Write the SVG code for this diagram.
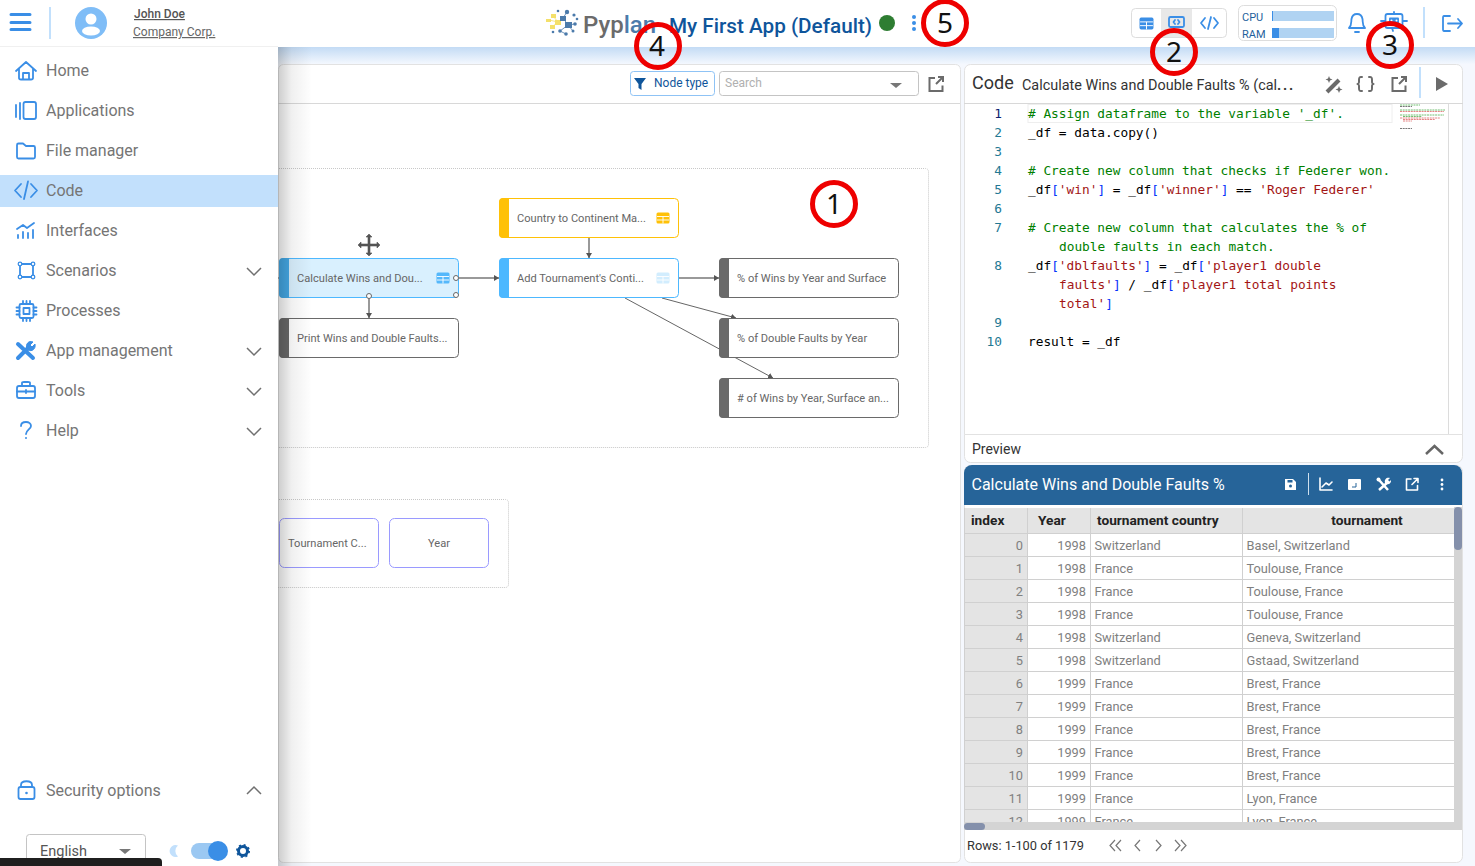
<svg xmlns="http://www.w3.org/2000/svg" width="1475" height="866" viewBox="0 0 1475 866">
<style>
text{font-family:Roboto,"Liberation Sans",sans-serif}
.nav{font-size:16px;fill:#757575}
.ic{fill:none;stroke:#3a8ee6;stroke-width:1.8;stroke-linecap:round;stroke-linejoin:round}
.gi{fill:none;stroke:#6b6b6b;stroke-width:2;stroke-linecap:round;stroke-linejoin:round}
.wi{fill:none;stroke:#fff;stroke-width:1.6;stroke-linecap:round;stroke-linejoin:round}
.chev{fill:none;stroke:#707070;stroke-width:1.5}
.nt{font-size:11.1px;fill:#666}
.code{font-family:"DejaVu Sans Mono","Liberation Mono",monospace;font-size:12.8px;fill:#000;white-space:pre}
.ln{font-family:"DejaVu Sans Mono","Liberation Mono",monospace;font-size:12.8px;fill:#237893;text-anchor:end}
.c{fill:#008000}.s{fill:#a31515}.b{fill:#0431fa}
.th{font-size:13.7px;font-weight:700;fill:#222}
.td{font-size:12.8px;fill:#808080}
.r{text-anchor:end}
.grid{stroke:#d0d0d0;stroke-width:1;fill:none}
.mark{fill:none;stroke:#ee0000;stroke-width:5}
.mt{font-family:"Noto Sans","Open Sans",sans-serif;font-size:28px;fill:#111;text-anchor:middle}
.conn{fill:none;stroke:#999;stroke-width:2}
.thin{fill:none;stroke:#666;stroke-width:1}
.lk{fill:none;stroke:#6b6b6b;stroke-width:2}
</style>
<defs>
<linearGradient id="band" x1="0" y1="0" x2="0" y2="1"><stop offset="0" stop-color="#c3dbf5"/><stop offset="1" stop-color="#f4f8fe"/></linearGradient>
<linearGradient id="shadow" x1="0" y1="0" x2="1" y2="0"><stop offset="0" stop-color="#000" stop-opacity=".2"/><stop offset=".4" stop-color="#000" stop-opacity=".06"/><stop offset="1" stop-color="#000" stop-opacity="0"/></linearGradient>
<marker id="ah" markerWidth="6" markerHeight="6" refX="5" refY="3" orient="auto" markerUnits="userSpaceOnUse"><path d="M0 0L5 3L0 6Z" fill="#555"/></marker>
<clipPath id="tb"><rect x="964" y="507" width="490" height="315"/></clipPath>
<symbol id="tblico" viewBox="0 0 14 12" overflow="visible"><rect x=".5" y=".5" width="13" height="11" rx="1.5" fill="currentColor"/><path d="M1 4.5H13M1 8H13M7 4.5V11.5" stroke="#fff" stroke-width=".9" fill="none"/></symbol>
</defs>

<rect width="1475" height="866" fill="#f5f8fe"/>
<rect x="0" y="47" width="1475" height="17" fill="url(#band)"/>
<rect x="0" y="0" width="1475" height="47" fill="#fff"/>

<g id="top-bar">
<g id="logo">
<g stroke="#f4e06a" stroke-width=".8"><path d="M549 20L558 22M553 16L558 22M552 27L558 22"/></g>
<g fill="#f4e06a"><rect x="546" y="19" width="5" height="3"/><rect x="551" y="14" width="5" height="4"/><rect x="555" y="20" width="6" height="5"/><rect x="550" y="25" width="5" height="4"/></g>
<g stroke="#4c7bab" stroke-width=".8"><path d="M563 18L567 12M563 18L568 25M568 25L575 24M568 25L573 31M568 25L560 31M560 31L566 34"/></g>
<g fill="#4c7bab"><circle cx="567" cy="12" r="2.200"/><circle cx="574" cy="15" r="1.600"/><rect x="560" y="16" width="6" height="5"/><rect x="565" y="22" width="7" height="6"/><circle cx="575" cy="24" r="1.800"/><circle cx="577" cy="19" r="1.300"/><circle cx="573" cy="31" r="1.500"/><circle cx="560" cy="31" r="1.800"/><circle cx="566" cy="34" r="1.800"/><circle cx="553" cy="32" r="1.300"/><circle cx="558" cy="11" r="1.300"/></g>
</g>
<text x="583" y="33" font-size="24" font-weight="500" fill="#6b6b6b">Pyp<tspan fill="#4c7bab">lan</tspan></text>
<text x="669" y="33" font-size="20.700" font-weight="500" fill="#0f559b">My First App (Default)</text>
<circle cx="887" cy="23" r="8" fill="#2e7d32"/>
<g fill="#3a8ee6"><circle cx="914" cy="17" r="2"/><circle cx="914" cy="23" r="2"/><circle cx="914" cy="29" r="2"/></g>
<g id="view-switch">
<rect x="1131.500" y="8.500" width="95" height="29" rx="4" fill="#fff" stroke="#ddd"/>
<rect x="1161" y="9" width="31" height="28" fill="#e8e8e8"/>
<use href="#tblico" x="1139" y="17" width="15" height="13" color="#3a8ee6"/>
<rect x="1169" y="17" width="15" height="10" rx="1.500" class="ic"/><path d="M1173 31H1180" class="ic"/><path d="M1175 20L1173.500 22L1175 24M1178 20L1179.500 22L1178 24" class="ic" stroke-width="1"/>
<path d="M1205 18L1201 23L1205 28M1214 18L1218 23L1214 28M1211 17L1208 29" class="ic"/>
</g>
<g id="resources">
<rect x="1238.500" y="5.500" width="98" height="35" rx="5" fill="#fff" stroke="#ddd"/>
<text x="1242" y="21" font-size="11" fill="#1f5f9c">CPU</text>
<text x="1242" y="38" font-size="11" fill="#1f5f9c">RAM</text>
<rect x="1272" y="11" width="62" height="10" fill="#b0d3f2"/><rect x="1272" y="11" width="1" height="10" fill="#3a8ee6"/>
<rect x="1272" y="28" width="62" height="10" fill="#b0d3f2"/><rect x="1272" y="28" width="7" height="10" fill="#3a8ee6"/>
</g>
<path d="M1349 28C1352 25 1351 22 1351.500 19C1352 16 1354 14 1357 14C1360 14 1362 16 1362.500 19C1363 22 1362 25 1365 28ZM1355 32H1359" class="ic"/>
<rect x="1385.500" y="14" width="17" height="14" rx="2" class="ic"/><rect x="1389" y="17.500" width="10" height="6" rx="1" fill="#3a8ee6"/><circle cx="1391.500" cy="20.500" r="1" fill="#fff"/><circle cx="1396.500" cy="20.500" r="1" fill="#fff"/><path d="M1381 21H1385M1403 21H1407M1394 12V14M1392 28L1393 31" class="ic"/>
<rect x="1423" y="7" width="2" height="31" fill="#c2e0fc"/>
<path d="M1450 16H1444C1443 16 1443 17 1443 18V29C1443 30 1443 31 1444 31H1450M1448 23.500H1462M1458 19L1462 23.500L1458 28" class="ic"/>
</g>

<g id="left-panel">
<rect x="278.500" y="64.500" width="682" height="798" rx="5" fill="#fff" stroke="#e2e2e2"/>
<path d="M278 103.500H960" stroke="#d8d8d8" fill="none"/>
<g id="filter">
<rect x="630.500" y="71.500" width="84" height="24" rx="3" fill="#fff" stroke="#8fc3f5"/>
<path d="M634 78H646L641.500 84V90L638.500 88V84Z" fill="#0f559b"/>
<text x="654" y="87" font-size="12" fill="#0f559b">Node type</text>
</g>
<g id="search">
<rect x="719.500" y="71.500" width="199" height="24" rx="3" fill="#fff" stroke="#c4c4c4"/>
<text x="725" y="87" font-size="12" fill="#b0b0b0">Search</text>
<path d="M890 83H902L896 88Z" fill="#777"/>
</g>
<path d="M935 78H929.500V91H942.500V85.500M936 84L943 77M938 77H943V82" class="lk"/>
<rect x="170" y="168.500" width="758.500" height="279" rx="3" fill="none" stroke="#c8c8c8" stroke-dasharray="1 1"/>
<rect x="170" y="499.500" width="338.500" height="88" rx="3" fill="none" stroke="#c8c8c8" stroke-dasharray="1 1"/>
</g>

<g id="connectors">
<path d="M270 278H279" class="thin"/>
<path d="M589 238V258" class="conn" marker-end="url(#ah)"/>
<path d="M459 278H499" class="conn" marker-end="url(#ah)"/>
<path d="M369 298V318" class="conn" marker-end="url(#ah)"/>
<path d="M679 278H719" class="conn" marker-end="url(#ah)"/>
<path d="M662 298L736 318" class="thin" marker-end="url(#ah)"/>
<path d="M625 298L773 378" class="thin" marker-end="url(#ah)"/>
</g>

<g id="n-calculate">
<rect x="279.500" y="258.500" width="179" height="39" rx="4" fill="#d9f0fe" stroke="#4db8ff"/>
<path d="M279 262a4 4 0 0 1 4-4h6v40h-6a4 4 0 0 1-4-4z" fill="#45a9e6"/>
<text x="297" y="282" class="nt">Calculate Wins and Dou...</text>
<use href="#tblico" x="436" y="272" width="14" height="12" color="#55b8fb"/>
</g>
<g id="n-print">
<rect x="279.500" y="318.500" width="179" height="39" rx="4" fill="#fff" stroke="#6a6a6a"/>
<path d="M279 322a4 4 0 0 1 4-4h6v40h-6a4 4 0 0 1-4-4z" fill="#6a6a6a"/>
<text x="297" y="342" class="nt">Print Wins and Double Faults...</text>
</g>
<g id="n-country">
<rect x="499.500" y="198.500" width="179" height="39" rx="4" fill="#fff" stroke="#ffc107"/>
<path d="M499 202a4 4 0 0 1 4-4h6v40h-6a4 4 0 0 1-4-4z" fill="#ffc107"/>
<text x="517" y="222" class="nt">Country to Continent Ma...</text>
<use href="#tblico" x="656" y="212" width="14" height="12" color="#ffc107"/>
</g>
<g id="n-add">
<rect x="499.500" y="258.500" width="179" height="39" rx="4" fill="#fff" stroke="#4db8ff"/>
<path d="M499 262a4 4 0 0 1 4-4h6v40h-6a4 4 0 0 1-4-4z" fill="#4db8ff"/>
<text x="517" y="282" class="nt">Add Tournament's Conti...</text>
<use href="#tblico" x="656" y="272" width="14" height="12" color="#d2edfe"/>
</g>
<g id="n-wins">
<rect x="719.500" y="258.500" width="179" height="39" rx="4" fill="#fff" stroke="#6a6a6a"/>
<path d="M719 262a4 4 0 0 1 4-4h6v40h-6a4 4 0 0 1-4-4z" fill="#6a6a6a"/>
<text x="737" y="282" class="nt">% of Wins by Year and Surface</text>
</g>
<g id="n-double">
<rect x="719.500" y="318.500" width="179" height="39" rx="4" fill="#fff" stroke="#6a6a6a"/>
<path d="M719 322a4 4 0 0 1 4-4h6v40h-6a4 4 0 0 1-4-4z" fill="#6a6a6a"/>
<text x="737" y="342" class="nt">% of Double Faults by Year</text>
</g>
<g id="n-count">
<rect x="719.500" y="378.500" width="179" height="39" rx="4" fill="#fff" stroke="#6a6a6a"/>
<path d="M719 382a4 4 0 0 1 4-4h6v40h-6a4 4 0 0 1-4-4z" fill="#6a6a6a"/>
<text x="737" y="402" class="nt"># of Wins by Year, Surface an...</text>
</g>
<path d="M369 234L372 237H370V244H377V242L380 245L377 248V246H370V253H372L369 256L366 253H368V246H361V248L358 245L361 242V244H368V237H366Z" fill="#555" stroke="#555" stroke-width=".6"/>
<g id="ports" fill="#fff" stroke="#666"><circle cx="456" cy="278" r="2.500"/><circle cx="456" cy="295" r="2.500"/><circle cx="369" cy="296" r="2.500"/></g>
<g id="n-tournament">
<rect x="279.500" y="518.500" width="99" height="49" rx="5" fill="#fff" stroke="#9a9aff"/>
<text x="288" y="547" class="nt">Tournament C...</text>
</g>
<g id="n-year">
<rect x="389.500" y="518.500" width="99" height="49" rx="5" fill="#fff" stroke="#9a9aff"/>
<text x="439" y="547" class="nt" text-anchor="middle">Year</text>
</g>

<rect x="278" y="47" width="34" height="819" fill="url(#shadow)"/>
<g id="sidebar">
<rect x="0" y="0" width="278" height="866" fill="#fff"/>
<path d="M0 46.500H278" stroke="#f0f0f0"/>
<path d="M11 14.500H30M11 22.500H30M11 29.500H30" stroke="#3a8ee6" stroke-width="3" stroke-linecap="round" fill="none"/>
<rect x="49" y="7" width="2" height="32" fill="#c2e0fc"/>
<circle cx="91" cy="23" r="16" fill="#7fbdf7"/>
<circle cx="91" cy="19" r="5.500" fill="#fff"/><ellipse cx="91" cy="31" rx="9" ry="4.500" fill="#fff"/>
<text x="134" y="18" font-size="12" font-weight="500" fill="#555" text-decoration="underline">John Doe</text>
<text x="133" y="36" font-size="12" fill="#666" text-decoration="underline">Company Corp.</text>
<rect x="0" y="175" width="278" height="32" fill="#c2e0fc"/>
<g id="nav-home"><path d="M16 71L26 62L36 71M19 69V78C19 79 20 79.500 21 79.500H31C32 79.500 33 79 33 78V69M23 79V73H29V79" class="ic"/><text x="46" y="76" class="nav">Home</text></g>
<g id="nav-apps"><rect x="23.500" y="102" width="12.500" height="17" rx="2" class="ic"/><path d="M16 105V117M20 103V119" class="ic"/><text x="46" y="116" class="nav">Applications</text></g>
<g id="nav-files"><path d="M17 145C17 144 17.500 143.500 18.500 143.500H23L26 146H33.500C34.500 146 35 146.500 35 147.500V157C35 158 34.500 158.500 33.500 158.500H18.500C17.500 158.500 17 158 17 157Z" class="ic"/><text x="46" y="156" class="nav">File manager</text></g>
<g id="nav-code"><path d="M21 184L15 190.500L21 197M31 184L37 190.500L31 197M28 181.500L24 199" class="ic"/><text x="46" y="196" class="nav">Code</text></g>
<g id="nav-interfaces"><path d="M17 229L23 225L27 228L34 223" class="ic"/><path d="M18 235V238M23 232V238M28 233V238M33 230V238" class="ic" stroke-width="3"/><text x="46" y="236" class="nav">Interfaces</text></g>
<g id="nav-scenarios"><rect x="20" y="264" width="13" height="13" class="ic"/><g fill="#fff" stroke="#3a8ee6" stroke-width="1.300"><circle cx="20" cy="264" r="1.800"/><circle cx="33" cy="264" r="1.800"/><circle cx="20" cy="277" r="1.800"/><circle cx="33" cy="277" r="1.800"/></g><text x="46" y="276" class="nav">Scenarios</text><path d="M247 268L254 275L261 268" class="chev"/></g>
<g id="nav-processes"><rect x="19.500" y="304" width="14" height="14" rx="1.500" class="ic"/><rect x="23.500" y="308" width="6" height="6" class="ic"/><path d="M23 301V304M26.500 301V304M30 301V304M23 318V321M26.500 318V321M30 318V321M16.500 307.500H19.500M16.500 311H19.500M16.500 314.500H19.500M33.500 307.500H36.500M33.500 311H36.500M33.500 314.500H36.500" class="ic" stroke-width="1.300"/><text x="46" y="316" class="nav">Processes</text></g>
<g id="nav-appmgmt"><path d="M18 358L28 348M18 344L33 358" stroke="#3a8ee6" stroke-width="4" stroke-linecap="round" fill="none"/><path d="M27 349C25 344 29 340 33 342L30 345L32 347L35 344C36 349 32 352 28 350" fill="#3a8ee6" stroke="#3a8ee6"/><text x="46" y="356" class="nav">App management</text><path d="M247 348L254 355L261 348" class="chev"/></g>
<g id="nav-tools"><rect x="17" y="386" width="18" height="12" rx="2" class="ic"/><path d="M22 386V383C22 382 23 382 24 382H28C29 382 30 382 30 383V386M17 391.500H35M26 390V393" class="ic"/><text x="46" y="396" class="nav">Tools</text><path d="M247 388L254 395L261 388" class="chev"/></g>
<g id="nav-help"><path d="M21 426C21 423 23 422 26 422C29 422 31 424 31 426C31 429 26 430 26 434" class="ic"/><circle cx="26" cy="438" r="1" fill="#3a8ee6"/><text x="46" y="436" class="nav">Help</text><path d="M247 428L254 435L261 428" class="chev"/></g>
<g id="nav-security"><rect x="18.500" y="787" width="16" height="12" rx="2" class="ic"/><path d="M21 787V785C21 780 32 780 32 785V787" class="ic"/><circle cx="26.500" cy="793" r="1.300" fill="#3a8ee6"/><text x="46" y="796" class="nav">Security options</text><path d="M247 794L254 787L261 794" class="chev"/></g>
<g id="language"><rect x="26.500" y="834.500" width="119" height="40" rx="3" fill="#fff" stroke="#c4c4c4"/><text x="40" y="856" font-size="14.500" fill="#555">English</text><path d="M119 849H131L125 854Z" fill="#777"/></g>
<path d="M178 845.500A6 6 0 1 0 178 856.500A7 7 0 0 1 178 845.500Z" fill="#c2e0fc"/>
<rect x="191" y="843" width="32" height="16" rx="8" fill="#9bc8f2"/><circle cx="218" cy="851" r="10" fill="#3a8ee6"/>
<circle cx="243" cy="851" r="4.500" fill="none" stroke="#0f559b" stroke-width="3"/><circle cx="243" cy="851" r="6" fill="none" stroke="#0f559b" stroke-width="2" stroke-dasharray="2 2.700"/>
<rect x="-6" y="858" width="168" height="14" rx="4" fill="#1f1f1f"/>
</g>

<g id="code-panel">
<path d="M964.500 434.500V70.500a6 6 0 0 1 6-6H1456.500a6 6 0 0 1 6 6V434.500Z" fill="#fff" stroke="#e2e2e2"/>
<path d="M964 103.500H1463" stroke="#d8d8d8"/>
<text x="972" y="89" font-size="18" fill="#333">Code</text>
<text x="1022" y="90" font-size="14.400" fill="#333">Calculate Wins and Double Faults % (cal<tspan font-weight="700" letter-spacing="1.800">...</tspan></text>
<path d="M1327 92L1339 80" stroke="#6b6b6b" stroke-width="4" fill="none"/>
<path d="M1329 76L1330 78.500L1332.500 79.500L1330 80.500L1329 83L1328 80.500L1325.500 79.500L1328 78.500ZM1339 86L1340 88.500L1342.500 89.500L1340 90.500L1339 93L1338 90.500L1335.500 89.500L1338 88.500Z" fill="#6b6b6b"/>
<path d="M1362 77H1361C1359 77 1359 78 1359 80V82C1359 83 1358 84 1357.500 84C1358 84 1359 85 1359 86V88C1359 90 1359 91 1361 91H1362M1369 77H1370C1372 77 1372 78 1372 80V82C1372 83 1373 84 1373.500 84C1373 84 1372 85 1372 86V88C1372 90 1372 91 1370 91H1369" class="gi"/>
<path d="M1398 78H1392.500V91H1405.500V85.500M1399 84L1406 77M1401 77H1406V82" class="lk"/>
<rect x="1419" y="67" width="2" height="31" fill="#c2e0fc"/>
<path d="M1436 77L1448 84L1436 91Z" fill="#6b6b6b"/>
<rect x="1028" y="104.500" width="364" height="18" fill="none" stroke="#eeeeee"/>
<g id="code-lines">
<text class="ln" x="1002" y="118" style="fill:#0b216f">1</text>
<text class="code" x="1028" y="118"><tspan class="c"># Assign dataframe to the variable '_df'.</tspan></text>
<text class="ln" x="1002" y="137">2</text>
<text class="code" x="1028" y="137">_df = data.copy()</text>
<text class="ln" x="1002" y="156">3</text>
<text class="ln" x="1002" y="175">4</text>
<text class="code" x="1028" y="175"><tspan class="c"># Create new column that checks if Federer won.</tspan></text>
<text class="ln" x="1002" y="194">5</text>
<text class="code" x="1028" y="194">_df<tspan class="b">[</tspan><tspan class="s">'win'</tspan><tspan class="b">]</tspan> = _df<tspan class="b">[</tspan><tspan class="s">'winner'</tspan><tspan class="b">]</tspan> == <tspan class="s">'Roger Federer'</tspan></text>
<text class="ln" x="1002" y="213">6</text>
<text class="ln" x="1002" y="232">7</text>
<text class="code" x="1028" y="232"><tspan class="c"># Create new column that calculates the % of</tspan></text>
<text class="code" x="1059" y="251"><tspan class="c">double faults in each match.</tspan></text>
<text class="ln" x="1002" y="270">8</text>
<text class="code" x="1028" y="270">_df<tspan class="b">[</tspan><tspan class="s">'dblfaults'</tspan><tspan class="b">]</tspan> = _df<tspan class="b">[</tspan><tspan class="s">'player1 double</tspan></text>
<text class="code" x="1059" y="289"><tspan class="s">faults'</tspan><tspan class="b">]</tspan> / _df<tspan class="b">[</tspan><tspan class="s">'player1 total points</tspan></text>
<text class="code" x="1059" y="308"><tspan class="s">total'</tspan><tspan class="b">]</tspan></text>
<text class="ln" x="1002" y="327">9</text>
<text class="ln" x="1002" y="346">10</text>
<text class="code" x="1028" y="346">result = _df</text>
</g>
<g id="minimap" stroke-width=".8" fill="none" stroke-dasharray="2 .7">
<path d="M1400 105H1420" stroke="#4fae4f"/><path d="M1400 106.500H1412" stroke="#555"/>
<path d="M1400 110H1445" stroke="#4fae4f"/><path d="M1400 111.500H1444" stroke="#d66"/>
<path d="M1400 115H1444" stroke="#4fae4f"/><path d="M1403 116.500H1422" stroke="#4fae4f"/><path d="M1400 118H1440" stroke="#d66"/><path d="M1403 119.500H1435" stroke="#d66"/><path d="M1403 121H1412" stroke="#d66"/><path d="M1400 128.500H1412" stroke="#555"/>
</g>
<path d="M1448.500 104V434" stroke="#dcdcdc"/>
</g>

<g id="preview-header">
<path d="M964.500 434.500H1462.500V456.500a6 6 0 0 1-6 6H970.500a6 6 0 0 1-6-6Z" fill="#fff" stroke="#e2e2e2"/>
<text x="972" y="454" font-size="14" fill="#333">Preview</text>
<path d="M1426 454L1434.500 446L1443 454" fill="none" stroke="#666" stroke-width="2.500"/>
</g>

<g id="preview-panel">
<rect x="964.500" y="465.500" width="498" height="397" rx="6" fill="#fff" stroke="#e2e2e2"/>
<path d="M964 505V473a8 8 0 0 1 8-8H1454a8 8 0 0 1 8 8V505Z" fill="#266499"/>
<text x="971.500" y="490" font-size="16" fill="#fff">Calculate Wins and Double Faults %</text>
<path d="M1285 479H1293L1296 482V490H1285Z" fill="#fff"/><rect x="1287.500" y="480" width="5" height="2.500" fill="#266499"/><circle cx="1290.500" cy="486" r="1.500" fill="#266499"/>
<rect x="1308" y="473" width="1" height="22" fill="#cfe0ee"/>
<path d="M1320 478V490H1332M1322 487L1326 483L1329 485L1332 482" class="wi" stroke-width="1.200"/>
<rect x="1348" y="479" width="13" height="11" rx="1" fill="#fff"/><path d="M1356 483V487H1352" fill="none" stroke="#266499"/>
<path d="M1379 480L1388 490M1388 482L1379 490" stroke="#fff" stroke-width="2.500" fill="none"/><path d="M1385 483C1384 479 1387 477 1390 478L1388 480L1389.500 481.500L1391 480C1391.500 483 1389 485 1386 484Z" fill="#fff"/><circle cx="1378.500" cy="479.500" r="2" fill="#fff"/>
<path d="M1411 479H1406.500V490H1417.500V485.500M1412 484.500L1418 478.500M1414 478.500H1418V482.500" class="wi"/>
<g fill="#fff"><circle cx="1442" cy="480" r="1.400"/><circle cx="1442" cy="484.500" r="1.400"/><circle cx="1442" cy="489" r="1.400"/></g>

<g id="table">
<rect x="964" y="508" width="490" height="25" fill="#e4e4e4"/>
<rect x="964" y="533" width="63" height="290" fill="#e4e4e4"/>
<g clip-path="url(#tb)">
<path class="grid" d="M964 533.500H1454M964 556.500H1454M964 579.500H1454M964 602.500H1454M964 625.500H1454M964 648.500H1454M964 671.500H1454M964 694.500H1454M964 717.500H1454M964 740.500H1454M964 763.500H1454M964 786.500H1454M964 809.500H1454"/>
<path class="grid" d="M964.500 508V822M1027.500 508V822M1090.500 508V822M1242.500 508V822"/>
<text class="td r" x="1023" y="550">0</text><text class="td r" x="1086" y="550">1998</text><text class="td" x="1094.500" y="550">Switzerland</text><text class="td" x="1246.500" y="550">Basel, Switzerland</text>
<text class="td r" x="1023" y="573">1</text><text class="td r" x="1086" y="573">1998</text><text class="td" x="1094.500" y="573">France</text><text class="td" x="1246.500" y="573">Toulouse, France</text>
<text class="td r" x="1023" y="596">2</text><text class="td r" x="1086" y="596">1998</text><text class="td" x="1094.500" y="596">France</text><text class="td" x="1246.500" y="596">Toulouse, France</text>
<text class="td r" x="1023" y="619">3</text><text class="td r" x="1086" y="619">1998</text><text class="td" x="1094.500" y="619">France</text><text class="td" x="1246.500" y="619">Toulouse, France</text>
<text class="td r" x="1023" y="642">4</text><text class="td r" x="1086" y="642">1998</text><text class="td" x="1094.500" y="642">Switzerland</text><text class="td" x="1246.500" y="642">Geneva, Switzerland</text>
<text class="td r" x="1023" y="665">5</text><text class="td r" x="1086" y="665">1998</text><text class="td" x="1094.500" y="665">Switzerland</text><text class="td" x="1246.500" y="665">Gstaad, Switzerland</text>
<text class="td r" x="1023" y="688">6</text><text class="td r" x="1086" y="688">1999</text><text class="td" x="1094.500" y="688">France</text><text class="td" x="1246.500" y="688">Brest, France</text>
<text class="td r" x="1023" y="711">7</text><text class="td r" x="1086" y="711">1999</text><text class="td" x="1094.500" y="711">France</text><text class="td" x="1246.500" y="711">Brest, France</text>
<text class="td r" x="1023" y="734">8</text><text class="td r" x="1086" y="734">1999</text><text class="td" x="1094.500" y="734">France</text><text class="td" x="1246.500" y="734">Brest, France</text>
<text class="td r" x="1023" y="757">9</text><text class="td r" x="1086" y="757">1999</text><text class="td" x="1094.500" y="757">France</text><text class="td" x="1246.500" y="757">Brest, France</text>
<text class="td r" x="1023" y="780">10</text><text class="td r" x="1086" y="780">1999</text><text class="td" x="1094.500" y="780">France</text><text class="td" x="1246.500" y="780">Brest, France</text>
<text class="td r" x="1023" y="803">11</text><text class="td r" x="1086" y="803">1999</text><text class="td" x="1094.500" y="803">France</text><text class="td" x="1246.500" y="803">Lyon, France</text>
<text class="td r" x="1023" y="826">12</text><text class="td r" x="1086" y="826">1999</text><text class="td" x="1094.500" y="826">France</text><text class="td" x="1246.500" y="826">Lyon, France</text>
</g>
<text class="th" x="971" y="525">index</text>
<text class="th" x="1038" y="525">Year</text>
<text class="th" x="1097" y="525">tournament country</text>
<text class="th" x="1367" y="525" text-anchor="middle">tournament</text>
<rect x="1454" y="507" width="8" height="323" fill="#d4d4d4"/><rect x="1454" y="507" width="8" height="43" rx="4" fill="#8490ab"/>
<rect x="964" y="822" width="490" height="8" fill="#d4d4d4"/><rect x="964" y="823" width="21" height="7" rx="3.500" fill="#8490ab"/>
</g>
<text x="967" y="850" font-size="12.800" fill="#333">Rows: 1-100 of 1179</text>
<g id="pager" fill="none" stroke="#777" stroke-width="1.200">
<path d="M1115 840L1110 845.500L1115 851M1121 840L1116 845.500L1121 851"/>
<path d="M1140 840L1135 845.500L1140 851"/>
<path d="M1156 840L1161 845.500L1156 851"/>
<path d="M1175 840L1180 845.500L1175 851M1181 840L1186 845.500L1181 851"/>
</g>
</g>

<g id="marks">
<g id="mark-1"><circle cx="834" cy="204" r="21.500" class="mark"/><text x="834" y="214" class="mt">1</text></g>
<g id="mark-2"><circle cx="1174" cy="52" r="21.500" class="mark"/><text x="1174" y="62" class="mt">2</text></g>
<g id="mark-3"><circle cx="1390" cy="45" r="21.500" class="mark"/><text x="1390" y="55" class="mt">3</text></g>
<g id="mark-4"><circle cx="658" cy="46" r="21.500" class="mark"/><text x="657" y="56" class="mt">4</text></g>
<g id="mark-5"><circle cx="945" cy="23" r="21.500" class="mark"/><text x="945" y="33" class="mt">5</text></g>
</g>
</svg>
